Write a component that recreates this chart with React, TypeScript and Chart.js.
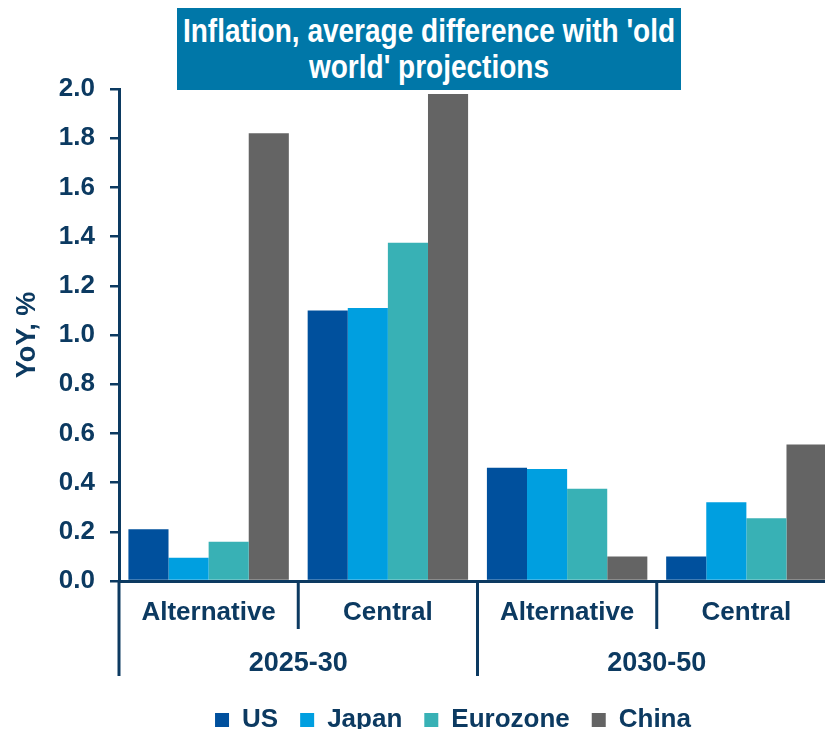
import React, { useEffect, useRef } from 'react';
import { Chart, registerables } from 'chart.js';

Chart.register(...registerables);

const titleLines = ["Inflation, average difference with 'old", "world' projections"];
const periods = ['2025-30', '2030-50'];
const scenarios = ['Alternative', 'Central', 'Alternative', 'Central'];
const seriesNames = ['US', 'Japan', 'Eurozone', 'China'];
const usValues = [0.21, 1.10, 0.46, 0.10];
const japanValues = [0.095, 1.11, 0.455, 0.32];
const eurozoneValues = [0.16, 1.375, 0.375, 0.255];
const chinaValues = [1.82, 1.98, 0.10, 0.555];
const seriesColors = ['#00509d', '#009fe0', '#38b1b5', '#646464'];
const yAxisTitle = 'YoY, %';
const yMin = 0;
const yMax = 2;
const yStep = 0.2;

const NAVY = '#0c3a61';
const FAMILY = "'Liberation Sans', Arial, Helvetica, sans-serif";

export default function App() {
  const ref = useRef<HTMLCanvasElement>(null);

  useEffect(() => {
    if (!ref.current) return;
    const bold = (size: number) => ({ family: FAMILY, size, weight: 'bold' as const });

    const separators = {
      id: 'separators',
      afterDraw(chart: any) {
        const x = chart.scales.x;
        const x2 = chart.scales.x2;
        const n = scenarios.length;
        const perGroup = n / periods.length;
        const ctx = chart.ctx;
        ctx.save();
        ctx.strokeStyle = NAVY;
        ctx.lineWidth = 3;
        for (let i = 0; i <= n; i++) {
          let px: number;
          if (i === 0) px = x.left;
          else if (i === n) px = x.right;
          else px = (x.getPixelForValue(i - 1) + x.getPixelForValue(i)) / 2;
          const outer = i % perGroup === 0;
          const yEnd = outer ? x2.top + 47 : x.bottom;
          ctx.beginPath();
          ctx.moveTo(px, x.top);
          ctx.lineTo(px, yEnd);
          ctx.stroke();
        }
        ctx.restore();
      },
    };

    const legendShift = {
      id: 'legendShift',
      afterLayout(chart: any) {
        const lg = chart.legend;
        if (lg) {
          lg.left += 35;
          lg.right += 35;
        }
      },
    };

    const values = [usValues, japanValues, eurozoneValues, chinaValues];

    const chart = new Chart(ref.current, {
      type: 'bar',
      data: {
        labels: scenarios,
        datasets: seriesNames.map((name, i) => ({
          label: name,
          data: values[i],
          backgroundColor: seriesColors[i],
          borderWidth: 0,
          categoryPercentage: 0.895,
          barPercentage: 1,
        })),
      },
      options: {
        animation: false,
        responsive: false,
        layout: { padding: { top: 89, left: 0, right: 0, bottom: 0 } },
        plugins: {
          title: { display: false },
          tooltip: { enabled: false },
          legend: {
            display: true,
            position: 'bottom',
            labels: {
              boxWidth: 14,
              boxHeight: 14,
              padding: 22,
              color: NAVY,
              font: bold(26),
            },
          },
        },
        scales: {
          y: {
            min: yMin,
            max: yMax,
            afterFit: (s: any) => { s.width = 119; },
            ticks: {
              stepSize: yStep,
              padding: 15,
              color: NAVY,
              font: bold(26),
              callback: (v: any) => Number(v).toFixed(1),
            },
            grid: {
              display: true,
              drawOnChartArea: false,
              drawTicks: true,
              tickLength: 9,
              color: NAVY,
              lineWidth: 2.5,
            },
            border: { display: true, color: NAVY, width: 3 },
            title: {
              display: true,
              text: yAxisTitle,
              color: NAVY,
              font: bold(27),
              padding: 11,
            },
          },
          x: {
            type: 'category',
            position: 'bottom',
            offset: true,
            afterFit: (s: any) => { s.height = 48; },
            grid: { display: false, drawTicks: false },
            border: { display: true, color: NAVY, width: 3 },
            ticks: { color: NAVY, font: bold(26), padding: 16, maxRotation: 0, autoSkip: false },
          },
          x2: {
            type: 'category',
            position: 'bottom',
            labels: periods,
            offset: true,
            afterFit: (s: any) => { s.height = 56; },
            grid: { display: false, drawTicks: false },
            border: { display: false },
            ticks: { color: NAVY, font: bold(27), padding: 18, maxRotation: 0, autoSkip: false },
          },
        },
      } as any,
      plugins: [separators, legendShift],
    });

    return () => chart.destroy();
  }, []);

  return (
    <div
      style={{
        position: 'absolute',
        left: 0,
        top: 0,
        width: 825,
        height: 729,
        overflow: 'hidden',
        background: '#ffffff',
      }}
    >
      <canvas ref={ref} width={836} height={743} style={{ display: 'block' }} />
      <div
        style={{
          position: 'absolute',
          left: 177,
          top: 8,
          width: 504,
          height: 82,
          background: '#0077a8',
          display: 'flex',
          alignItems: 'center',
          justifyContent: 'center',
        }}
      >
        <div
          style={{
            color: '#ffffff',
            fontFamily: FAMILY,
            fontWeight: 'bold',
            fontSize: 28,
            lineHeight: '31px',
            textAlign: 'center',
            whiteSpace: 'nowrap',
            transform: 'scaleY(1.16)',
            transformOrigin: 'center',
          }}
        >
          {titleLines[0]}
          <br />
          {titleLines[1]}
        </div>
      </div>
    </div>
  );
}
